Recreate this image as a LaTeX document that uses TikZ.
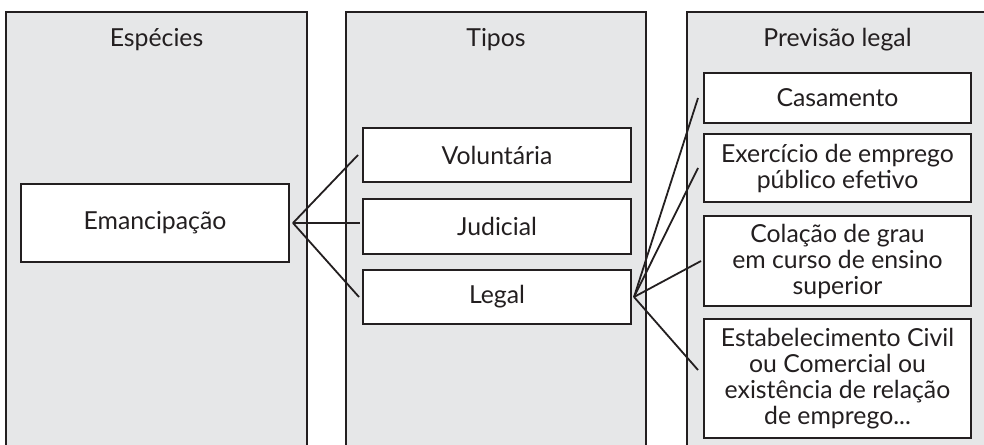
\documentclass[tikz,border=0pt]{standalone}
\usepackage{fontspec}
\setmainfont{Lato}
\definecolor{panelgray}{HTML}{E6E7E8}
\definecolor{ink}{HTML}{231F20}
\tikzset{
  panel/.style={draw=ink, line width=2pt, fill=panelgray},
  box/.style={draw=ink, line width=2pt, fill=white, inner sep=0pt, align=center, text=ink,
     font=\fontsize{24.8}{26}\selectfont},
  ttl/.style={text=ink, inner sep=0pt, font=\fontsize{24.8}{26}\selectfont},
  link/.style={draw=ink, line width=1.8pt}
}
\begin{document}
\begin{tikzpicture}[x=1pt,y=-1pt]
\useasboundingbox (0,0) rectangle (984,444);
\clip (0,0) rectangle (984,444);
% panels
\draw[panel] (6,12) rectangle (307,470);
\draw[panel] (346,12) rectangle (646,470);
\draw[panel] (687,12) rectangle (1000,470);
% titles
\node[ttl] (t1) at (156.5,40) {Espécies};
\node[ttl] (t2) at (496,40) {Tipos};
\node[ttl] (t3) at (837.5,40) {Previsão legal};
% boxes
\node[box, minimum width=268pt, minimum height=78pt] (eman) at (155,223) {Emancipação};
\node[box, minimum width=268pt, minimum height=54pt] (vol) at (497,155) {Voluntária};
\node[box, minimum width=268pt, minimum height=55pt] (jud) at (497,226.5) {Judicial};
\node[box, minimum width=268pt, minimum height=54pt] (leg) at (497,297) {Legal};
\node[box, minimum width=267pt, minimum height=50pt] (cas) at (837.5,98) {Casamento};
\node[box, minimum width=267pt, minimum height=68pt] (exe) at (837.5,168) {Exercício de emprego\\público efetivo};
\node[box, minimum width=267pt, minimum height=90pt] (col) at (837.5,261) {Colação de grau\\em curso de ensino\\superior};
\node[box, minimum width=267pt, minimum height=119pt] (est) at (837.5,378.5) {Estabelecimento Civil\\ou Comercial ou\\existência de relação\\de emprego...};
% connectors
\coordinate (a1) at ([xshift=3pt]eman.east);
\coordinate (a2) at ([xshift=2pt]leg.east);
\draw[link] (a1) -- ([xshift=-4pt]vol.west);
\draw[link] (a1) -- ([xshift=-2pt]a1 -| jud.west);
\draw[link] (a1) -- ([xshift=-3pt]leg.west);
\draw[link] (a2) -- ([xshift=-5pt]cas.west);
\draw[link] (a2) -- ([xshift=-5pt]exe.west);
\draw[link] (a2) -- ([xshift=-2pt]col.west);
\draw[link] (a2) -- ([xshift=-5pt,yshift=8.5pt]est.west);
\end{tikzpicture}
\end{document}
